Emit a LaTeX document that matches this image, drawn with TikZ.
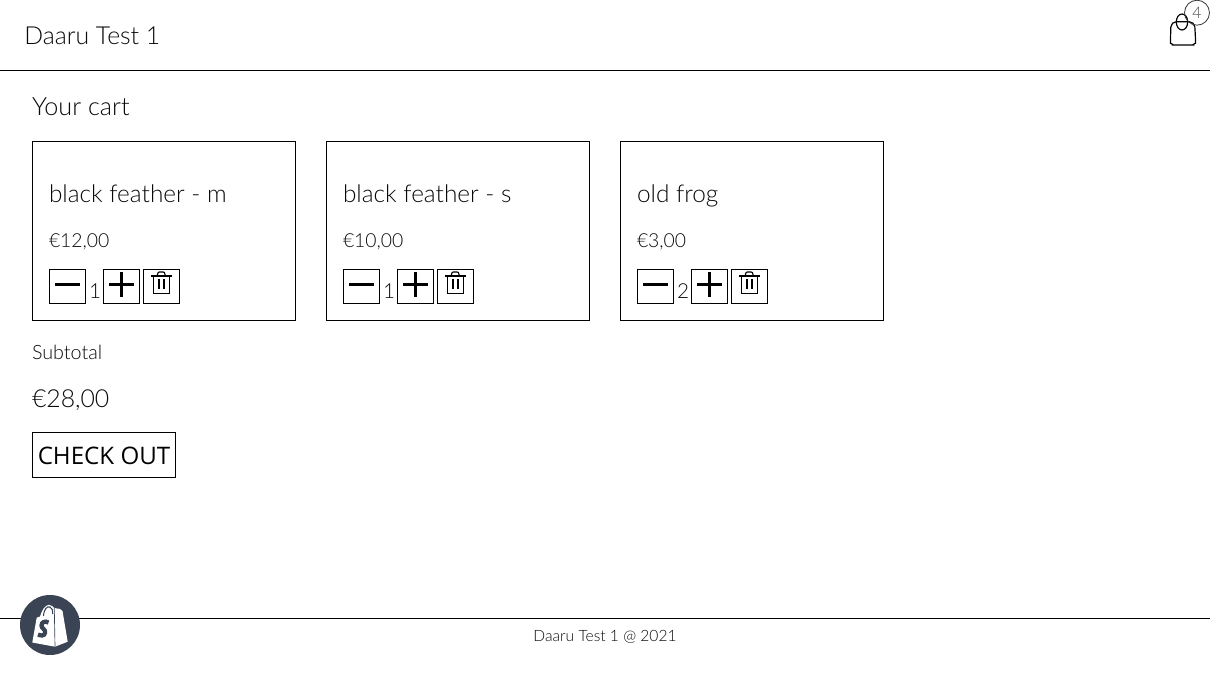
\documentclass[tikz,border=0pt]{standalone}
\usepackage{fontspec}
\setmainfont{Lato Light}
\newfontfamily\osans{Open Sans}
\newcommand{\fsz}[1]{\fontsize{#1}{#1}\selectfont}
\definecolor{shop}{HTML}{3A4454}
\definecolor{ink}{HTML}{0A0A0A}
\tikzset{
  x=0.75pt,y=-0.75pt,
  rule/.style={draw=black,line width=0.75pt},
  txt/.style={anchor=base west,inner sep=0pt,outer sep=0pt,text=ink},
  title/.style={txt,font=\fsz{18.3}},
  price/.style={txt,font=\fsz{14.5}},
  qty/.style={txt,font=\fsz{15.5}},
  card/.style={draw=black,line width=0.75pt,fill=white},
  btn/.style={draw=black,line width=0.75pt},
  sym/.style={draw=black,line width=1.7pt},
  thin/.style={draw=black,line width=0.85pt},
  pics/cartcard/.style n args={3}{code={
    \draw[card] (0,0) rectangle (263,179);
    \node[title] at (16.5,60.5) {#1};
    \node[price] at (16.5,105.5) {#2};
    \draw[btn] (17,128) rectangle (53,162);
    \draw[sym] (22.5,143) -- (47.5,143);
    \node[qty] at (56.5,156.5) {#3};
    \draw[btn] (71,128) rectangle (107,162);
    \draw[sym] (76.5,143) -- (101.5,143) (89,130.5) -- (89,155.5);
    \draw[btn] (111,128) rectangle (147,162);
    \draw[thin] (118.5,134.5) -- (139.5,134.5);
    \draw[thin] (125,134.5) -- (125,133) .. controls (125,131) and (126,130.5) .. (127,130.5) -- (130.5,130.5) .. controls (131.5,130.5) and (132.5,131) .. (132.5,133) -- (132.5,134.5);
    \draw[thin] (121.2,134.5) -- (121.2,151.8) -- (137,151.8) -- (137,134.5);
    \draw[thin] (126.5,137.5) -- (126.5,147.5) (131.5,137.5) -- (131.5,147.5);
  }}
}
\begin{document}
\begin{tikzpicture}
\useasboundingbox (0,0) rectangle (1210,675);
\fill[white] (0,0) rectangle (1210,675);
\draw[rule] (0,70.5) -- (1210,70.5);
\draw[rule] (0,618.5) -- (1210,618.5);
\node[title,font=\fsz{18.6}] (brand) at (24.3,44) {Daaru Test 1};
\node[title,font=\fsz{18.9}] (heading) at (32,115) {Your cart};
\pic at (32.5,141.5) {cartcard={black feather - m}{€12,00}{1}};
\pic at (326.5,141.5) {cartcard={black feather - s}{€10,00}{1}};
\pic at (620.5,141.5) {cartcard={old frog}{€3,00}{2}};
\node[txt,font=\fsz{14.8}] (subtotal) at (32,359) {Subtotal};
\node[txt,font=\fsz{18.6}] (total) at (32,407.5) {€28,00};
\node[draw=black,line width=0.75pt,minimum width=107.5pt,minimum height=34.2pt,inner sep=0pt] (checkout) at (104,455) {};
\node[anchor=base,inner sep=0pt,font=\osans\fsz{18.1},text=black] (checkoutlabel) at (104,464) {CHECK OUT};
\node[txt,font=\fsz{11.7},anchor=base] (footer) at (605,641) {Daaru Test 1 @ 2021};
% bag
\draw[black,line width=0.9pt,rounded corners=4pt] (1171,21.7) -- (1194.5,21.7) -- (1195.5,38) .. controls (1195.5,43) and (1192,45) .. (1188,45) -- (1178,45) .. controls (1174,45) and (1170.5,43) .. (1170.5,38) -- cycle;
\draw[black,line width=0.9pt] (1182,22) ellipse (5.7 and 8);
\node[circle,draw=black!80,line width=0.6pt,minimum size=18.7pt,inner sep=0pt,font=\fsz{12},text=black!70,fill=none] (badge) at (1197,12.7) {4};
% shopify
\fill[shop] (50,625) circle (30);
\fill[white] (36.7,617.7) -- (40,616.5) .. controls (42,610) and (45,605) .. (49,604.8) -- (52,606) -- (54.3,608) -- (60,609) -- (62.5,611) -- (67.7,641.7) -- (55,646.7) -- (32.3,642.5) -- cycle;
\draw[shop,line width=0.5pt] (54.3,608) -- (55,646.7);
\draw[shop,line width=0.8pt] (43.5,616) .. controls (44,609) and (47,606) .. (50,607) .. controls (52.5,608) and (53,611) .. (52.8,614);
\draw[shop,line width=3.2pt] (48.5,622.5) .. controls (45,620.5) and (41.5,622) .. (41.5,625.5) .. controls (41.5,629) and (46,629) .. (45,633) .. controls (44.3,636) and (41,636) .. (38,634.5);
\end{tikzpicture}
\end{document}
